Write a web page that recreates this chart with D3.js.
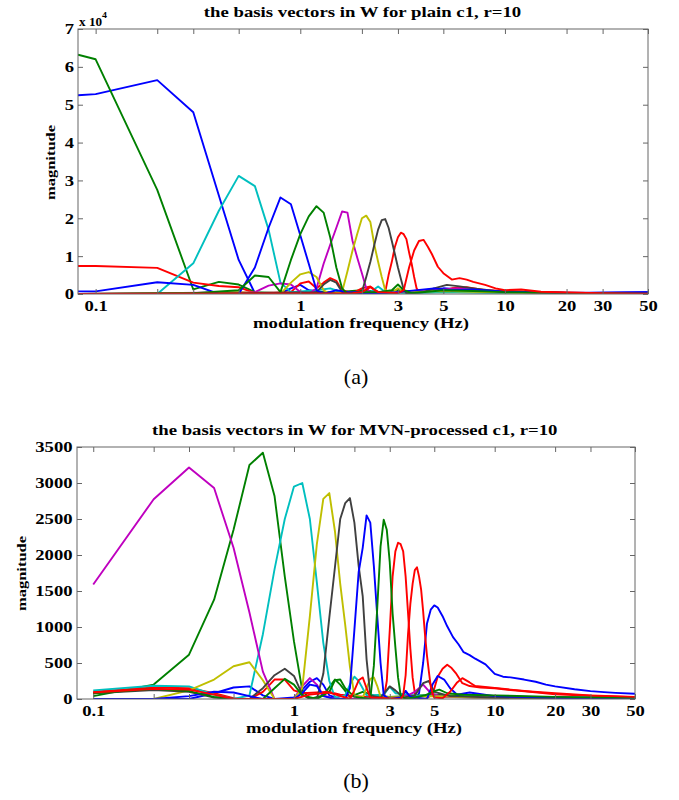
<!DOCTYPE html>
<html>
<head>
<meta charset="utf-8">
<script src="https://cdn.jsdelivr.net/npm/d3@7"></script>
<style>
body{margin:0;background:#fff;}
text{font-family:"Liberation Serif","Times New Roman",serif;fill:#000;}
</style>
</head>
<body>
<svg id="fig" width="679" height="800"></svg>
<script>
// ---- data: [frequency Hz, magnitude] ----
// panel (a): magnitudes in units of 10^4
const aBlue1 = [[0.082,5.25],[0.1,5.28],[0.2,5.65],[0.3,4.8],[0.4,2.6],[0.5,0.9],[0.6,0.02],[0.8,0.02],[0.9,0.15],[1.0,0.24],[1.1,0.1],[1.3,0.05],[1.6,0.02],[2.5,0.02],[3,0.05],[4,0.1],[5,0.15],[6,0.12],[8,0.08],[10,0.06],[15,0.04],[25,0.03],[50,0.05]];
const aGreen1 = [[0.082,6.32],[0.1,6.2],[0.2,2.75],[0.3,0.12],[0.4,0.32],[0.5,0.25],[0.6,0.05],[0.8,0.02],[1.5,0.05],[2,0.1],[2.5,0.05],[3,0.1],[4,0.05],[6,0.1],[10,0.05],[20,0.02],[50,0.01]];
const aRed1 = [[0.082,0.74],[0.1,0.74],[0.2,0.69],[0.3,0.3],[0.4,0.21],[0.5,0.18],[0.6,0.02],[0.9,0.05],[1.0,0.28],[1.1,0.33],[1.2,0.15],[1.3,0.3],[1.4,0.42],[1.5,0.35],[1.6,0.1],[1.8,0.02],[2.0,0.15],[2.2,0.2],[2.4,0.05],[2.6,0.05],[2.7,0.5],[2.8,0.85],[2.9,1.25],[3.0,1.5],[3.1,1.62],[3.2,1.58],[3.3,1.45],[3.4,1.1],[3.5,0.8],[3.6,0.45],[3.7,0.15],[3.8,0.05],[4.5,0.05],[5.5,0.15],[6.5,0.18],[8,0.1],[10,0.08],[15,0.05],[25,0.03],[50,0.02]];
const aCyan = [[0.082,0],[0.2,0],[0.3,0.81],[0.4,2.2],[0.5,3.12],[0.6,2.85],[0.7,1.7],[0.8,0.3],[0.9,0.05],[1.2,0.1],[1.4,0.15],[1.6,0.05],[2.2,0.05],[2.4,0.2],[2.6,0.05],[3.5,0.02],[5,0.05],[8,0.03],[20,0.02],[50,0.01]];
const aMagenta = [[0.082,0],[0.2,0.02],[0.6,0.05],[0.7,0.22],[0.8,0.28],[0.9,0.25],[1.0,0.05],[1.1,0],[1.2,0.15],[1.3,0.8],[1.4,1.3],[1.5,1.75],[1.6,2.18],[1.7,2.15],[1.8,1.4],[1.9,0.95],[2.0,0.55],[2.1,0.15],[2.2,0.05],[3,0.05],[4,0.08],[6,0.15],[8,0.08],[15,0.03],[50,0.02]];
const aYellow = [[0.082,0],[0.3,0.02],[0.5,0.05],[0.8,0],[0.9,0.3],[1.0,0.52],[1.1,0.58],[1.2,0.45],[1.3,0.1],[1.4,0],[1.6,0.05],[1.7,0.6],[1.8,1.15],[1.9,1.6],[2.0,2.0],[2.1,2.07],[2.2,1.9],[2.3,1.3],[2.4,0.85],[2.5,0.45],[2.6,0.1],[2.8,0.02],[3.0,0.15],[3.2,0.05],[5,0.08],[7,0.06],[12,0.03],[50,0.01]];
const aGray = [[0.082,0],[0.5,0.02],[1.2,0.05],[1.3,0.25],[1.4,0.37],[1.5,0.3],[1.6,0.05],[2.0,0.05],[2.1,0.45],[2.2,0.85],[2.3,1.3],[2.4,1.7],[2.5,1.95],[2.6,1.98],[2.7,1.75],[2.8,1.4],[2.9,1.05],[3.0,0.7],[3.1,0.4],[3.2,0.12],[3.3,0.02],[4,0.05],[4.5,0.15],[5.2,0.24],[6,0.2],[7,0.15],[9,0.08],[12,0.05],[20,0.03],[50,0.02]];
const aBlue2 = [[0.082,0.07],[0.1,0.07],[0.2,0.31],[0.3,0.24],[0.4,0],[0.5,0],[0.6,0.7],[0.7,1.75],[0.8,2.55],[0.9,2.37],[1.0,1.55],[1.1,0.8],[1.2,0.1],[1.3,0],[1.5,0.1],[1.7,0.05],[2.5,0.02],[3,0.05],[4.5,0.15],[5.5,0.1],[7,0.12],[10,0.06],[20,0.03],[50,0.05]];
const aGreen2 = [[0.082,0],[0.3,0.02],[0.5,0.1],[0.6,0.49],[0.7,0.45],[0.8,0.05],[0.9,0.9],[1.0,1.58],[1.1,2.05],[1.2,2.32],[1.3,2.15],[1.4,1.5],[1.5,0.7],[1.6,0.15],[1.7,0],[2.0,0.05],[2.4,0.05],[2.8,0.1],[3.0,0.25],[3.2,0.1],[3.5,0.02],[5,0.1],[7,0.08],[10,0.05],[20,0.03],[50,0.01]];
const aRed2 = [[0.082,0],[1.8,0.02],[2.0,0.05],[2.2,0.18],[2.4,0.05],[3.0,0.02],[3.2,0.1],[3.4,0.7],[3.6,1.15],[3.8,1.4],[4.0,1.43],[4.2,1.25],[4.4,1.05],[4.7,0.72],[5.0,0.55],[5.5,0.38],[6.0,0.42],[6.5,0.38],[7.0,0.32],[8.0,0.24],[9.0,0.15],[10,0.1],[12,0.12],[15,0.06],[20,0.04],[30,0.02],[50,0.01]];

// panel (b)
const bBlue1 = [[0.1,0],[0.3,0],[0.4,80],[0.5,160],[0.6,175],[0.7,50],[0.8,0],[1.0,20],[1.1,130],[1.2,240],[1.3,290],[1.4,200],[1.5,50],[1.7,0],[3.4,0],[3.6,110],[3.8,20],[4.0,0],[4.2,80],[4.4,500],[4.6,1050],[4.8,1240],[5.0,1300],[5.2,1270],[5.5,1150],[5.8,1010],[6.2,860],[6.6,760],[7.0,650],[7.5,610],[8.0,560],[9.0,480],[10,350],[11,310],[12,300],[14,270],[16,240],[18,200],[20,175],[25,135],[30,110],[35,95],[40,85],[50,72]];
const bGreen1 = [[0.1,40],[0.2,200],[0.3,615],[0.4,1380],[0.5,2350],[0.6,3250],[0.7,3420],[0.8,2820],[0.9,1700],[1.0,800],[1.1,120],[1.2,0],[1.4,50],[1.6,270],[1.7,200],[1.9,30],[2.2,100],[2.5,50],[3,30],[5,60],[7,40],[10,30],[20,20],[50,10]];
const bRed1 = [[0.1,100],[0.2,160],[0.3,150],[0.4,80],[0.5,10],[0.6,0],[0.7,100],[0.8,270],[0.9,270],[1.0,120],[1.1,80],[1.3,90],[1.5,100],[1.7,60],[2.0,40],[2.6,20],[2.8,0],[2.9,250],[3.0,950],[3.1,1700],[3.2,2050],[3.3,2170],[3.4,2150],[3.5,2050],[3.6,1700],[3.7,1200],[3.8,700],[3.9,300],[4.0,80],[4.1,0],[4.5,0],[4.9,60],[5.2,310],[5.5,420],[5.8,475],[6.1,430],[6.4,360],[6.9,220],[7.5,180],[8.5,160],[10,150],[12,125],[15,100],[20,65],[30,45],[50,25]];
const bCyan = [[0.1,120],[0.2,185],[0.3,175],[0.4,60],[0.5,0],[0.6,50],[0.7,900],[0.8,1800],[0.9,2500],[1.0,2950],[1.1,3000],[1.2,2500],[1.3,1620],[1.4,780],[1.5,250],[1.6,20],[1.8,50],[1.9,200],[2.0,310],[2.1,250],[2.3,50],[2.8,60],[3.0,170],[3.2,80],[4.0,50],[6,30],[10,20],[50,10]];
const bMagenta = [[0.1,1590],[0.2,2775],[0.3,3215],[0.4,2930],[0.5,2100],[0.6,1200],[0.7,380],[0.8,0],[1.0,0],[1.1,180],[1.2,290],[1.3,200],[1.4,50],[1.6,0],[3.5,20],[4.0,100],[4.4,200],[4.8,80],[5.5,30],[8,20],[20,10],[50,5]];
const bYellow = [[0.1,0],[0.2,0],[0.3,120],[0.4,270],[0.5,455],[0.6,510],[0.7,260],[0.8,0],[1.0,0],[1.1,150],[1.2,1150],[1.3,2150],[1.4,2780],[1.5,2860],[1.6,2330],[1.7,1600],[1.8,1030],[1.9,450],[2.0,50],[2.2,20],[2.3,150],[2.4,280],[2.5,300],[2.6,180],[2.7,30],[3.5,20],[5,40],[8,20],[50,5]];
const bGray = [[0.1,80],[0.2,125],[0.3,100],[0.4,20],[0.5,0],[0.6,0],[0.7,150],[0.8,330],[0.9,420],[1.0,320],[1.1,60],[1.2,0],[1.3,0],[1.4,350],[1.5,1130],[1.6,1830],[1.7,2500],[1.8,2720],[1.9,2790],[2.0,2450],[2.1,1850],[2.2,1430],[2.3,550],[2.4,50],[2.7,20],[3.0,175],[3.2,120],[3.5,20],[4.0,50],[4.4,220],[4.7,250],[5.0,100],[6,40],[10,20],[50,5]];
const bBlue2 = [[0.1,0],[0.2,0],[0.3,40],[0.4,100],[0.5,90],[0.6,40],[0.7,0],[1.0,0],[1.1,80],[1.2,200],[1.3,180],[1.4,40],[1.6,0],[1.8,0],[1.9,150],[2.0,960],[2.1,1760],[2.2,2100],[2.3,2550],[2.4,2450],[2.5,1850],[2.6,1150],[2.7,500],[2.8,50],[3.0,0],[3.4,20],[3.6,110],[3.8,30],[4.6,0],[4.9,200],[5.2,320],[5.6,270],[6.0,150],[6.5,60],[7.5,90],[10,40],[20,20],[50,10]];
const bGreen2 = [[0.1,80],[0.2,140],[0.3,110],[0.4,30],[0.5,0],[0.7,0],[0.8,150],[0.9,280],[1.0,200],[1.1,50],[1.3,0],[1.5,100],[1.6,260],[1.7,270],[1.8,150],[2.0,30],[2.4,0],[2.5,460],[2.6,1270],[2.7,2120],[2.8,2490],[2.9,2350],[3.0,1900],[3.1,1190],[3.2,720],[3.3,300],[3.4,50],[3.6,0],[4.5,50],[5.0,110],[5.3,130],[5.8,80],[7,60],[10,50],[20,30],[50,15]];
const bRed2 = [[0.1,90],[0.2,140],[0.3,130],[0.4,60],[0.5,0],[1.0,0],[1.2,60],[1.5,90],[1.9,0],[2.0,120],[2.1,260],[2.2,300],[2.3,150],[2.4,20],[3.4,0],[3.5,50],[3.6,330],[3.7,900],[3.8,1320],[3.9,1600],[4.0,1790],[4.1,1830],[4.2,1700],[4.3,1520],[4.4,1220],[4.5,880],[4.6,600],[4.7,380],[4.8,180],[4.9,80],[5.0,20],[5.5,10],[6.0,100],[6.5,230],[6.9,290],[7.5,230],[8.0,180],[10,155],[12,130],[15,105],[20,80],[30,50],[50,30]];

const xTicks = [0.1, 0.2, 0.3, 0.5, 1, 2, 3, 5, 10, 20, 30, 50];
const xTickLabels = [0.1, 1, 3, 5, 10, 20, 30, 50];
const yTicksA = [0, 1, 2, 3, 4, 5, 6, 7];
const yTicksB = [0, 500, 1000, 1500, 2000, 2500, 3000, 3500];

// matlab's old colour order
const col = {b:'#0000ff', g:'#008000', r:'#ff0000', c:'#00bfbf', m:'#bf00bf', y:'#bfbf00', k:'#404040'};

const svg = d3.select('#fig');

// the figure's lettering is wide: draw it stretched sideways
function label(g, x, y, txt, size, sx, opts){
	opts = opts || {};
	return g.append('text')
		.attr('transform', 'translate(' + x + ',' + y + ')' + (opts.rot ? ' rotate(' + opts.rot + ')' : '') + ' scale(' + sx + ',1)')
		.attr('text-anchor', opts.anchor || 'middle')
		.style('font-weight', opts.normal ? 'normal' : 'bold')
		.style('font-size', size + 'px')
		.text(txt);
}

function drawPanel(p){
	const x = d3.scaleLog().domain(p.xdom).range([p.left, p.right]);
	const y = d3.scaleLinear().domain(p.ydom).range([p.bottom, p.top]);
	const g = svg.append('g');
	const tsx = 1.2; // tick label stretch

	const clipId = 'clip' + p.id;
	g.append('clipPath').attr('id', clipId).append('rect')
		.attr('x', p.left).attr('y', p.top - 2)
		.attr('width', p.right - p.left).attr('height', p.bottom - p.top + 2);

	const line = d3.line().x(d => x(d[0])).y(d => y(d[1]));
	g.append('g').attr('clip-path', 'url(#' + clipId + ')')
		.selectAll('path').data(p.curves).enter().append('path')
		.attr('d', d => line(d.v))
		.attr('fill', 'none')
		.attr('stroke', d => col[d.c])
		.attr('stroke-width', 1.9)
		.attr('stroke-linejoin', 'round');

	// ticks inward on all four sides
	const fmt = v => xTickLabels.indexOf(v) >= 0 ? String(v) : '';
	const bx = g.append('g').attr('transform', 'translate(0,' + p.bottom + ')')
		.call(d3.axisBottom(x).tickValues(xTicks).tickFormat(fmt).tickSizeInner(-5).tickSizeOuter(0).tickPadding(6));
	g.append('g').attr('transform', 'translate(0,' + p.top + ')')
		.call(d3.axisTop(x).tickValues(xTicks).tickFormat('').tickSizeInner(-5).tickSizeOuter(0));
	const ly = g.append('g').attr('transform', 'translate(' + p.left + ',0)')
		.call(d3.axisLeft(y).tickValues(p.yticks).tickFormat(d3.format('d')).tickSizeInner(-5).tickSizeOuter(0).tickPadding(p.ypad));
	g.append('g').attr('transform', 'translate(' + p.right + ',0)')
		.call(d3.axisRight(y).tickValues(p.yticks).tickFormat('').tickSizeInner(-5).tickSizeOuter(0));
	g.selectAll('.domain').remove();

	g.selectAll('.tick line').attr('stroke', '#666');
	g.selectAll('.tick text')
		.attr('font-family', null).attr('font-size', null)
		.style('font-weight', 'bold').style('font-size', '15.5px').attr('fill', '#000')
		.attr('transform', 'scale(' + tsx + ',1)');
	ly.selectAll('.tick text').attr('x', -p.ypad / tsx);

	g.append('rect')
		.attr('x', p.left).attr('y', p.top)
		.attr('width', p.right - p.left).attr('height', p.bottom - p.top)
		.attr('fill', 'none').attr('stroke', '#666').attr('stroke-width', 1);

	label(g, p.titleX, p.titleY, p.title, 15, 1.25);
	label(g, p.xlabX, p.xlabY, 'modulation frequency (Hz)', 15, 1.25);
	label(g, p.ylabX, p.ylabY, 'magnitude', 13, 1.27, {rot: -90});
	label(g, 356, p.capY, p.caption, 20, 1.1, {normal: true});
	return g;
}

const ga = drawPanel({
	id: 'a', left: 78, right: 648, top: 29, bottom: 294,
	xdom: [0.082, 50], ydom: [0, 7], yticks: yTicksA, ypad: 4,
	title: 'the basis vectors in W for plain c1, r=10',
	titleX: 362.5, titleY: 17, xlabX: 361, xlabY: 328, ylabX: 54.5, ylabY: 162.5,
	capY: 384, caption: '(a)',
	curves: [
		{c:'b', v:aBlue1}, {c:'g', v:aGreen1}, {c:'r', v:aRed1}, {c:'c', v:aCyan}, {c:'m', v:aMagenta},
		{c:'y', v:aYellow}, {c:'k', v:aGray}, {c:'b', v:aBlue2}, {c:'g', v:aGreen2}, {c:'r', v:aRed2}
	]
});
// exponent label of the scaled y axis
const expo = label(ga, 79, 25.5, '', 12, 1.1, {anchor: 'start'});
expo.append('tspan').text('x 10');
expo.append('tspan').attr('dy', -7.5).style('font-size', '9px').text('4');

drawPanel({
	id: 'b', left: 77, right: 635, top: 447, bottom: 699,
	xdom: [0.083, 50], ydom: [0, 3500], yticks: yTicksB, ypad: 4.5,
	title: 'the basis vectors in W for MVN-processed c1, r=10',
	titleX: 354.7, titleY: 435, xlabX: 354, xlabY: 733, ylabX: 25.5, ylabY: 573.5,
	capY: 788, caption: '(b)',
	curves: [
		{c:'b', v:bBlue1}, {c:'g', v:bGreen1}, {c:'r', v:bRed1}, {c:'c', v:bCyan}, {c:'m', v:bMagenta},
		{c:'y', v:bYellow}, {c:'k', v:bGray}, {c:'b', v:bBlue2}, {c:'g', v:bGreen2}, {c:'r', v:bRed2}
	]
});
</script>
</body>
</html>
